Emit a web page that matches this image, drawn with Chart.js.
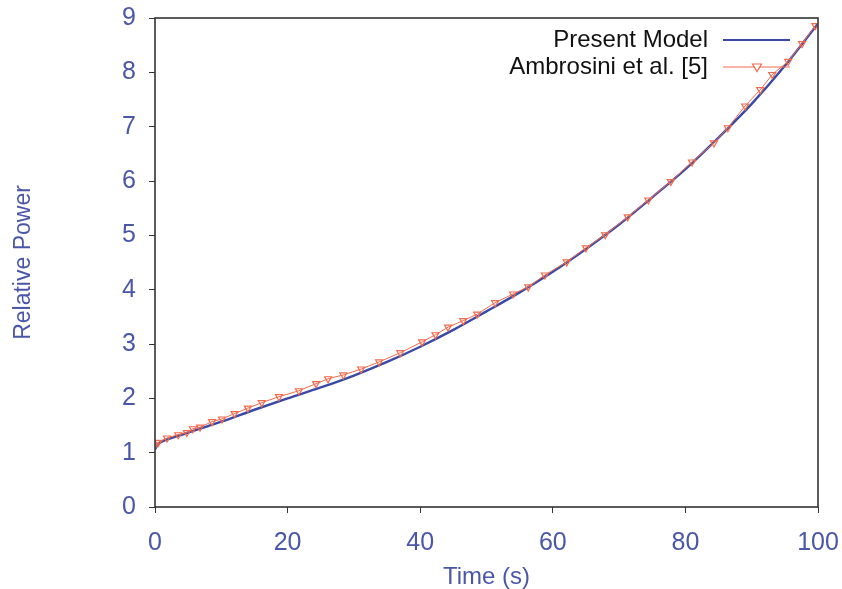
<!DOCTYPE html>
<html>
<head>
<meta charset="utf-8">
<script src="https://cdn.jsdelivr.net/npm/chart.js@4.4.0/dist/chart.umd.min.js"></script>
<style>
  html, body { margin: 0; padding: 0; background: #fff; }
  #wrap { width: 842px; height: 589px; }
</style>
</head>
<body>
<div id="wrap"><canvas id="chart" width="842" height="589"></canvas></div>
<script>
// Present Model (solid curve)
const modelTime = [0, 0.5, 1, 2, 4, 6, 8, 10, 15, 20, 25, 30, 35, 40, 45, 50, 55, 60, 65, 70, 75, 80, 85, 90, 95, 100];
const modelPower = [1.06, 1.16, 1.2, 1.25, 1.33, 1.41, 1.49, 1.57, 1.79, 2.0, 2.2, 2.42, 2.67, 2.95, 3.26, 3.6, 3.95, 4.33, 4.75, 5.2, 5.7, 6.22, 6.8, 7.42, 8.12, 8.9];

// Ambrosini et al. [5] (markers)
const refTime = [0, 0.5, 1.8, 3.5, 4.8, 5.7, 6.8, 8.6, 10.1, 12, 14, 16.1, 18.7, 21.7, 24.3, 26.1, 28.4, 31.1, 33.8, 37, 40.3, 42.3, 44.2, 46.5, 48.6, 51.3, 54, 56.3, 58.8, 62.1, 65, 67.9, 71.3, 74.4, 77.8, 81, 84.3, 86.4, 89, 91.3, 93.1, 95.5, 97.6, 99.6];
const refPower = [1.14, 1.19, 1.27, 1.33, 1.37, 1.44, 1.47, 1.57, 1.62, 1.72, 1.82, 1.92, 2.03, 2.14, 2.27, 2.36, 2.43, 2.54, 2.67, 2.84, 3.04, 3.17, 3.31, 3.43, 3.55, 3.76, 3.92, 4.05, 4.27, 4.51, 4.77, 5.01, 5.34, 5.65, 5.99, 6.35, 6.7, 6.98, 7.38, 7.68, 7.96, 8.2, 8.53, 8.86];

const seriesNames = ["Present Model", "Ambrosini et al. [5]"];
const xTicks = [0, 20, 40, 60, 80, 100];
const yTicks = [0, 1, 2, 3, 4, 5, 6, 7, 8, 9];

const blue = "#3a49a6";
const red = "#f26a4b";
const labelBlue = "#4a56a8";
const font = "'Liberation Sans', Arial, sans-serif";

const framePlugin = {
  id: "frame",
  afterDraw(chart) {
    const { ctx, chartArea: a } = chart;
    ctx.save();
    ctx.strokeStyle = "#333";
    ctx.lineWidth = 1.6;
    ctx.strokeRect(a.left, a.top, a.right - a.left, a.bottom - a.top);

    // legend: text right-aligned, sample line to the right
    ctx.font = "24px " + font;
    ctx.fillStyle = "#111";
    ctx.textAlign = "right";
    ctx.textBaseline = "middle";
    const rows = [a.top + 22, a.top + 49];
    seriesNames.forEach((name, i) => {
      ctx.fillText(name, 708, rows[i]);
      ctx.beginPath();
      ctx.moveTo(723, rows[i]);
      ctx.lineTo(790, rows[i]);
      ctx.strokeStyle = i === 0 ? blue : red;
      ctx.lineWidth = i === 0 ? 2.2 : 1;
      ctx.stroke();
    });
    // marker in legend
    const mx = 757, my = rows[1];
    ctx.beginPath();
    ctx.moveTo(mx - 4.5, my - 3);
    ctx.lineTo(mx + 4.5, my - 3);
    ctx.lineTo(mx, my + 4.5);
    ctx.closePath();
    ctx.fillStyle = "#fff";
    ctx.fill();
    ctx.strokeStyle = red;
    ctx.lineWidth = 1.2;
    ctx.stroke();
    ctx.restore();
  }
};

new Chart(document.getElementById("chart"), {
  type: "scatter",
  data: {
    datasets: [
      {
        label: seriesNames[1],
        data: refTime.map((t, i) => ({ x: t, y: refPower[i] })),
        showLine: true,
        borderColor: red,
        borderWidth: 1,
        pointStyle: "triangle",
        rotation: 180,
        pointRadius: 4,
        pointBorderWidth: 1.2,
        pointBorderColor: red,
        pointBackgroundColor: "rgba(255,255,255,0)",
        tension: 0
      },
      {
        label: seriesNames[0],
        data: modelTime.map((t, i) => ({ x: t, y: modelPower[i] })),
        showLine: true,
        borderColor: blue,
        borderWidth: 2.4,
        pointRadius: 0,
        cubicInterpolationMode: "monotone"
      }
    ]
  },
  options: {
    responsive: false,
    animation: false,
    layout: { padding: { left: 0, right: 24, top: 18, bottom: 0 } },
    plugins: {
      legend: { display: false },
      tooltip: { enabled: false }
    },
    scales: {
      x: {
        type: "linear",
        min: 0,
        max: 100,
        afterBuildTicks: s => { s.ticks = xTicks.map(v => ({ value: v })); },
        afterFit: s => { s.height = 82; s.paddingLeft = 0; s.paddingRight = 0; },
        grid: { drawOnChartArea: false, color: "#333", tickLength: 6, drawTicks: true },
        border: { display: false },
        ticks: { color: labelBlue, font: { family: font, size: 25 }, padding: 15, maxRotation: 0 },
        title: { display: true, text: "Time (s)", color: labelBlue, font: { family: font, size: 24 }, padding: { top: 4, bottom: -3 } }
      },
      y: {
        type: "linear",
        min: 0,
        max: 9,
        afterBuildTicks: s => { s.ticks = yTicks.map(v => ({ value: v })); },
        afterFit: s => { s.width = 155; s.paddingTop = 0; s.paddingBottom = 0; },
        grid: { drawOnChartArea: false, color: "#333", tickLength: 6 },
        border: { display: false },
        ticks: { color: labelBlue, font: { family: font, size: 25 }, padding: 13 },
        title: { display: true, text: "Relative Power", color: labelBlue, font: { family: font, size: 23 }, padding: { top: 10, bottom: 0 } }
      }
    }
  },
  plugins: [framePlugin]
});
</script>
</body>
</html>
